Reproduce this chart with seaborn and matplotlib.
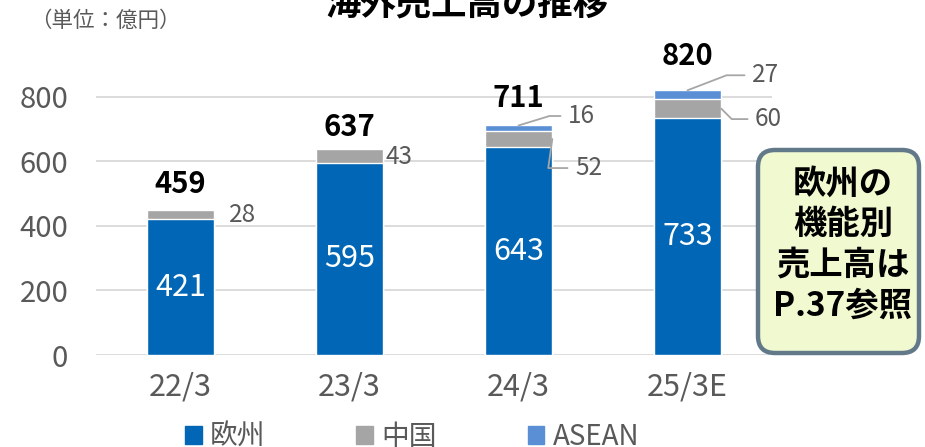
import pandas as pd
import seaborn as sns
import matplotlib.pyplot as plt
from matplotlib.patches import FancyBboxPatch, Patch

# datos (億円)
categories = ['22/3', '23/3', '24/3', '25/3E']
europe = [421, 595, 643, 733]
china = [28, 43, 52, 60]
asean = [0, 0, 16, 27]
totals = [459, 637, 711, 820]

c_eu = '#0066B5'
c_cn = '#A5A5A5'
c_as = '#5A8FD6'
grey_txt = '#595959'

sns.set_theme(style='white')
plt.rcParams['font.family'] = ['Noto Sans CJK JP', 'DejaVu Sans']

df = pd.DataFrame({'年度': categories, '欧州': europe, '中国': china, 'ASEAN': asean})
df['欧州+中国'] = df['欧州'] + df['中国']
df['合計'] = df['欧州+中国'] + df['ASEAN']

fig = plt.figure(figsize=(9.25, 4.47), dpi=100)
ax = fig.add_axes([0.1038, 0.2058, 0.7308, 0.650])

# barras apiladas: se dibuja de la mas alta a la mas baja
sns.barplot(data=df, x='年度', y='合計', color=c_as, width=0.4, saturation=1, ax=ax)
sns.barplot(data=df, x='年度', y='欧州+中国', color=c_cn, width=0.4, saturation=1, ax=ax)
sns.barplot(data=df, x='年度', y='欧州', color=c_eu, width=0.4, saturation=1, ax=ax)

ax.set_ylim(0, 900)
ax.set_yticks([0, 200, 400, 600, 800])
ax.yaxis.grid(True, color='#D9D9D9', lw=1.3)
ax.set_axisbelow(True)
sns.despine(ax=ax, left=True, bottom=True)
ax.set_xlabel('')
ax.set_ylabel('')
ax.tick_params(axis='y', labelsize=21, labelcolor=grey_txt, length=0, pad=20)
ax.tick_params(axis='x', labelsize=22, labelcolor=grey_txt, length=0, pad=12)

# etiquetas dentro de la barra
for i, v in enumerate(europe):
    ax.text(i, v / 2, str(v), color='white', ha='center', va='center', fontsize=22)

# totales
stack_top = df['合計'].tolist()
tot_off = [19, 16, 20, 25]
for i, t in enumerate(totals):
    ax.annotate(str(t), xy=(i, stack_top[i]), xytext=(0, tot_off[i]),
                textcoords='offset points', ha='center', va='center',
                fontsize=21, fontweight='bold', color='black')

# etiquetas laterales
line_kw = dict(arrowstyle='-', color='#A6A6A6', lw=1.3, shrinkA=3, shrinkB=0,
               relpos=(0, 0.5))
side_kw = dict(textcoords='offset points', ha='left', va='center',
               fontsize=17.5, color=grey_txt)

ax.annotate(str(china[0]), xy=(0.2, europe[0] + china[0] / 2), xytext=(10.8, 0), **side_kw)
ax.annotate(str(china[1]), xy=(1.2, europe[1] + china[1] / 2), xytext=(1.4, -1), **side_kw)

ax.annotate(str(asean[2]), xy=(2, stack_top[2]), xytext=(35.6, 6.8),
            arrowprops=dict(connectionstyle='angle,angleA=0,angleB=17,rad=0', **line_kw),
            **side_kw)
ax.annotate(str(china[2]), xy=(2.2, europe[2] + china[2] / 2), xytext=(16.3, -20.9),
            arrowprops=dict(connectionstyle='angle,angleA=0,angleB=82,rad=0', **line_kw),
            **side_kw)
ax.annotate(str(asean[3]), xy=(3, stack_top[3]), xytext=(46.4, 10.8),
            arrowprops=dict(connectionstyle='angle,angleA=0,angleB=21,rad=0', **line_kw),
            **side_kw)
ax.annotate(str(china[3]), xy=(3.2, europe[3] + china[3] / 2), xytext=(24.3, -7.5),
            arrowprops=dict(connectionstyle='angle,angleA=0,angleB=-45,rad=0', **line_kw),
            **side_kw)

# titulo y unidad
fig.text(467 / 925, 1 - 4 / 447, '海外売上高の推移', ha='center', va='center',
         fontsize=25.5, fontweight='bold', color='black')
fig.text(30 / 925, 1 - 21 / 447, '（単位：億円）', ha='left', va='center',
         fontsize=15.5, color=grey_txt)

# recuadro de nota
box = FancyBboxPatch((7.58, 0.94), 1.61, 2.03,
                     boxstyle='round,pad=0,rounding_size=0.17',
                     transform=fig.dpi_scale_trans,
                     fc='#F1F9D0', ec='#62798A', lw=3.2)
fig.add_artist(box)
fig.text(843 / 925, 1 - 245 / 447, '欧州の\n機能別\n売上高は\nP.37参照',
         ha='center', va='center', fontsize=24, fontweight='bold',
         color='black', linespacing=1.3)

# leyenda
handles = [Patch(color=c_eu, label='欧州'),
           Patch(color=c_cn, label='中国'),
           Patch(color=c_as, label='ASEAN')]
fig.legend(handles=handles, loc='center', bbox_to_anchor=(412 / 925, 1 - 437 / 447),
           ncol=3, frameon=False, fontsize=20, handlelength=0.6, handleheight=0.6,
           handletextpad=0.3, columnspacing=3.27, labelcolor=grey_txt)

plt.savefig('out.png', dpi=100)
